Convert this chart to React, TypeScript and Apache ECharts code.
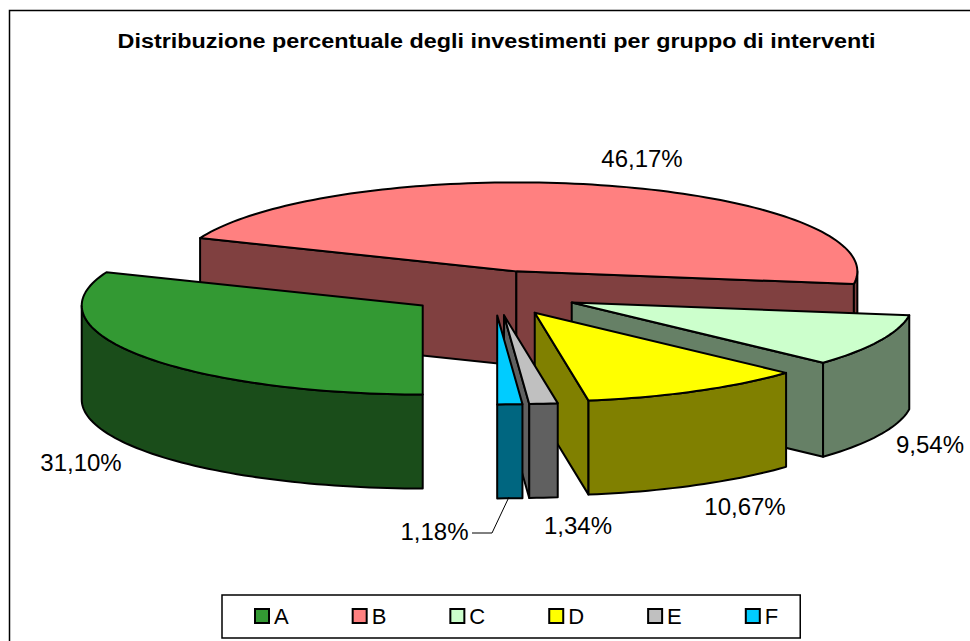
import React, { useEffect, useRef } from "react";
import * as echarts from "echarts";

const titleText = "Distribuzione percentuale degli investimenti per gruppo di interventi";
const categories = ["A", "B", "C", "D", "E", "F"];
const shares = [31.1, 46.17, 9.54, 10.67, 1.34, 1.18];
const topColors = ["#339933", "#FF8080", "#CCFFCC", "#FFFF00", "#C0C0C0", "#00CCFF"];
const sideColors = ["#1A4D1A", "#804040", "#668066", "#808000", "#606060", "#006680"];
// painter's order: back slices first
const drawRank = [2, 0, 1, 3, 4, 5];
const labelAnchors = [
  [81, 462],
  [642, 158],
  [930, 444],
  [745, 506],
  [578, 525],
  [434.5, 531],
];

const FONT = "'Liberation Sans', Arial, sans-serif";
const CX = 494;
const CY = 293;
const RX = 341;
const RY = 89;
const EX = 86;
const EY = 22.4;
const DEPTH = 94;
const START_DEG = -90; // ellipse parameter of the first slice start, running clockwise

const rad = (d: number) => (d * Math.PI) / 180;
const total = shares.reduce((a, b) => a + b, 0);

function sliceAngles(i: number) {
  let s = START_DEG;
  for (let k = 0; k < i; k++) s -= (shares[k] / total) * 360;
  return [s, s - (shares[i] / total) * 360];
}

function arcPoints(ax: number, ay: number, from: number, to: number) {
  const n = Math.max(2, Math.ceil(Math.abs(from - to) / 1.5));
  const pts: number[][] = [];
  for (let j = 0; j <= n; j++) {
    const t = rad(from + ((to - from) * j) / n);
    pts.push([ax + RX * Math.cos(t), ay - RY * Math.sin(t)]);
  }
  return pts;
}

function sliceItem(i: number) {
  const [s, e] = sliceAngles(i);
  const mid = rad((s + e) / 2);
  const ax = CX + EX * Math.cos(mid);
  const ay = CY - EY * Math.sin(mid);
  const line = { stroke: "#000", lineWidth: 2, lineJoin: "round" };
  const children: any[] = [];
  const poly = (points: number[][], fill: string) => ({
    type: "polygon",
    shape: { points },
    style: { fill, ...line },
    silent: true,
  });
  const radial = (deg: number) => {
    const t = rad(deg);
    const px = ax + RX * Math.cos(t);
    const py = ay - RY * Math.sin(t);
    return poly(
      [
        [ax, ay],
        [px, py],
        [px, py + DEPTH],
        [ax, ay + DEPTH],
      ],
      sideColors[i]
    );
  };
  if (Math.cos(rad(s)) < -1e-6) children.push(radial(s));
  if (Math.cos(rad(e)) > 1e-6) children.push(radial(e));
  // outer wall: only the part of the arc below the ellipse axis faces the viewer
  const ranges = [
    [0, -180],
    [-360, -540],
  ];
  ranges.forEach(([hi, lo]) => {
    const from = Math.min(s, hi);
    const to = Math.max(e, lo);
    if (from > to) {
      const upper = arcPoints(ax, ay, from, to);
      const lower = upper.map((p) => [p[0], p[1] + DEPTH]).reverse();
      children.push(poly(upper.concat(lower), sideColors[i]));
    }
  });
  children.push(poly([[ax, ay], ...arcPoints(ax, ay, s, e)], topColors[i]));
  return { type: "group", children };
}

const formatShare = (v: number) => v.toFixed(2).replace(".", ",") + "%";

export default function App() {
  const ref = useRef<HTMLDivElement>(null);
  useEffect(() => {
    document.body.style.margin = "0";
    const chart = echarts.init(ref.current!, undefined, { renderer: "svg" });
    chart.setOption({
      animation: false,
      backgroundColor: "#fff",
      legend: {
        show: true,
        left: 222,
        top: 595,
        orient: "horizontal",
        selectedMode: false,
        backgroundColor: "#fff",
        borderColor: "#000",
        borderWidth: 1.5,
        borderRadius: 0,
        padding: [10, 22, 11, 32],
        itemWidth: 14,
        itemHeight: 14,
        itemGap: 63,
        icon: "rect",
        textStyle: { fontFamily: FONT, fontSize: 22, color: "#000", padding: [0, 0, 5, 0] },
        data: categories.map((name, i) => ({
          name,
          itemStyle: { color: topColors[i], borderColor: "#000", borderWidth: 2 },
        })),
      },
      graphic: [
        {
          type: "rect",
          z: -10,
          silent: true,
          shape: { x: 9.5, y: 10.5, width: 975, height: 650 },
          style: { fill: "#fff", stroke: "#000", lineWidth: 1.5 },
        },
        {
          type: "text",
          silent: true,
          z: 5,
          x: 496.5,
          y: 41,
          scaleX: 1.113,
          style: {
            text: titleText,
            fontFamily: FONT,
            fontSize: 21,
            fontWeight: "bold",
            fill: "#000",
            align: "center",
            verticalAlign: "middle",
          },
        },
        ...shares.map((v, i) => ({
          type: "text",
          silent: true,
          z: 20,
          x: labelAnchors[i][0],
          y: labelAnchors[i][1],
          style: {
            text: formatShare(v),
            fontFamily: FONT,
            fontSize: 24,
            fill: "#000",
            align: "center",
            verticalAlign: "middle",
          },
        })),
        {
          type: "polyline",
          silent: true,
          z: 20,
          shape: {
            points: [
              [472, 533],
              [492, 533],
              [509, 497],
            ],
          },
          style: { stroke: "#000", lineWidth: 1, fill: "none" },
        },
      ],
      series: categories.map((name, i) => ({
        name,
        type: "custom",
        coordinateSystem: "none",
        silent: true,
        z: 3 + drawRank[i],
        itemStyle: { color: topColors[i] },
        data: [shares[i]],
        renderItem: () => sliceItem(i),
      })),
    });
    return () => chart.dispose();
  }, []);
  return <div ref={ref} style={{ width: 970, height: 641 }} />;
}
